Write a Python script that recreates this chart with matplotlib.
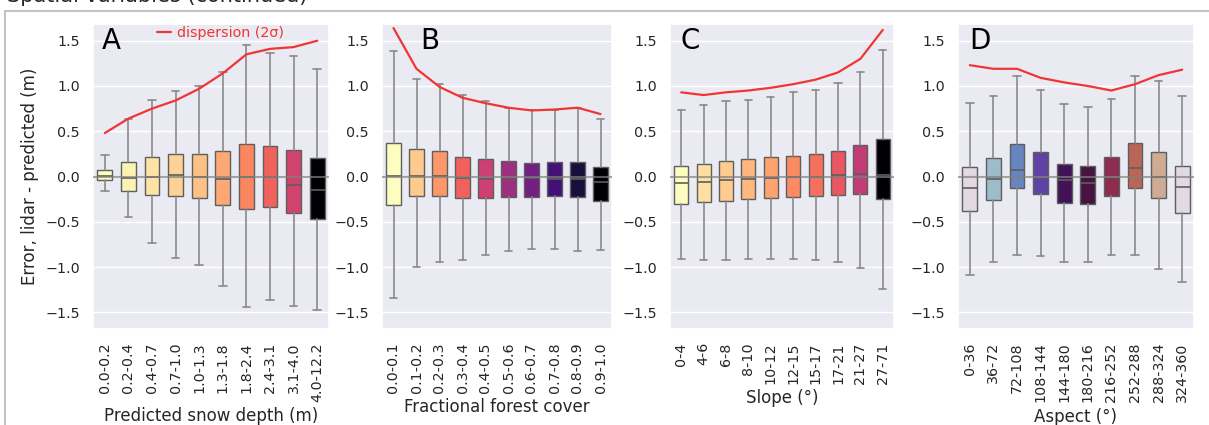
import matplotlib
matplotlib.use("Agg")
import matplotlib.pyplot as plt
import numpy as np
import seaborn as sns
from matplotlib.lines import Line2D

sns.set_theme(style="darkgrid")

# --- A: predicted snow depth bins ---
depth_bins = ["0.0-0.2", "0.2-0.4", "0.4-0.7", "0.7-1.0", "1.0-1.3",
              "1.3-1.8", "1.8-2.4", "2.4-3.1", "3.1-4.0", "4.0-12.2"]
depth_whislo = [-0.16, -0.45, -0.73, -0.90, -0.98, -1.21, -1.44, -1.36, -1.43, -1.48]
depth_q1 = [-0.04, -0.16, -0.20, -0.21, -0.24, -0.31, -0.36, -0.34, -0.40, -0.47]
depth_med = [0.01, -0.02, 0.00, 0.02, 0.00, -0.03, 0.00, -0.01, -0.09, -0.15]
depth_q3 = [0.07, 0.16, 0.22, 0.25, 0.25, 0.28, 0.36, 0.34, 0.29, 0.20]
depth_whishi = [0.24, 0.64, 0.85, 0.94, 1.00, 1.16, 1.45, 1.37, 1.33, 1.19]
depth_disp = [0.48, 0.64, 0.75, 0.84, 0.97, 1.14, 1.35, 1.41, 1.43, 1.50]

# --- B: fractional forest cover bins ---
forest_bins = ["0.0-0.1", "0.1-0.2", "0.2-0.3", "0.3-0.4", "0.4-0.5",
               "0.5-0.6", "0.6-0.7", "0.7-0.8", "0.8-0.9", "0.9-1.0"]
forest_whislo = [-1.34, -1.00, -0.95, -0.92, -0.87, -0.82, -0.80, -0.80, -0.82, -0.81]
forest_q1 = [-0.31, -0.22, -0.21, -0.24, -0.24, -0.23, -0.23, -0.22, -0.23, -0.27]
forest_med = [0.01, 0.01, 0.01, -0.02, -0.03, -0.02, -0.02, -0.03, -0.03, -0.06]
forest_q3 = [0.37, 0.30, 0.28, 0.22, 0.19, 0.17, 0.15, 0.16, 0.16, 0.10]
forest_whishi = [1.39, 1.08, 1.02, 0.90, 0.83, 0.76, 0.73, 0.74, 0.76, 0.64]
forest_disp = [1.64, 1.19, 0.99, 0.87, 0.81, 0.76, 0.73, 0.74, 0.76, 0.69]

# --- C: slope bins ---
slope_bins = ["0-4", "4-6", "6-8", "8-10", "10-12",
              "12-15", "15-17", "17-21", "21-27", "27-71"]
slope_whislo = [-0.91, -0.92, -0.92, -0.91, -0.91, -0.91, -0.92, -0.94, -1.01, -1.24]
slope_q1 = [-0.30, -0.28, -0.27, -0.25, -0.24, -0.23, -0.21, -0.20, -0.19, -0.25]
slope_med = [-0.07, -0.06, -0.04, -0.03, -0.02, 0.00, 0.00, 0.02, 0.03, 0.02]
slope_q3 = [0.12, 0.14, 0.17, 0.19, 0.21, 0.23, 0.25, 0.28, 0.35, 0.41]
slope_whishi = [0.74, 0.79, 0.83, 0.85, 0.88, 0.93, 0.96, 1.03, 1.16, 1.40]
slope_disp = [0.93, 0.90, 0.93, 0.95, 0.98, 1.02, 1.07, 1.15, 1.30, 1.62]

# --- D: aspect bins ---
aspect_bins = ["0-36", "36-72", "72-108", "108-144", "144-180",
               "180-216", "216-252", "252-288", "288-324", "324-360"]
aspect_whislo = [-1.09, -0.94, -0.87, -0.88, -0.94, -0.95, -0.87, -0.87, -1.02, -1.17]
aspect_q1 = [-0.38, -0.26, -0.13, -0.19, -0.29, -0.30, -0.22, -0.13, -0.24, -0.40]
aspect_med = [-0.13, -0.03, 0.07, 0.00, -0.04, -0.07, 0.00, 0.09, 0.00, -0.12]
aspect_q3 = [0.10, 0.20, 0.36, 0.27, 0.14, 0.12, 0.22, 0.37, 0.27, 0.12]
aspect_whishi = [0.81, 0.89, 1.11, 0.96, 0.80, 0.77, 0.86, 1.11, 1.06, 0.89]
aspect_disp = [1.23, 1.19, 1.19, 1.09, 1.04, 1.00, 0.95, 1.02, 1.12, 1.18]

panels = [
    ("A", depth_bins, depth_whislo, depth_q1, depth_med, depth_q3, depth_whishi,
     depth_disp, "Predicted snow depth (m)", "magma_r"),
    ("B", forest_bins, forest_whislo, forest_q1, forest_med, forest_q3, forest_whishi,
     forest_disp, "Fractional forest cover", "magma_r"),
    ("C", slope_bins, slope_whislo, slope_q1, slope_med, slope_q3, slope_whishi,
     slope_disp, "Slope (°)", "magma_r"),
    ("D", aspect_bins, aspect_whislo, aspect_q1, aspect_med, aspect_q3, aspect_whishi,
     aspect_disp, "Aspect (°)", "twilight"),
]

W, H = 1209, 425
fig = plt.figure(figsize=(W / 100, H / 100), dpi=100)

# axes extents in pixels (left, right) and where each panel letter sits
ax_px = [(93, 329), (382, 612), (670, 894), (958, 1194)]
letter_x = [0.036, 0.165, 0.048, 0.046]
top_px, bot_px = 24, 329

disp_color = "#f03535"

for (letter, bins, wlo, q1, med, q3, whi, disp, xlabel, cmap_name), (l, r), lx in zip(
        panels, ax_px, letter_x):
    ax = fig.add_axes([l / W, 1 - bot_px / H, (r - l) / W, (bot_px - top_px) / H])

    # colour each box by the bin midpoint
    mids = np.array([np.mean([float(v) for v in b.split("-")]) for b in bins])
    frac = (mids - mids.min()) / (mids.max() - mids.min())
    cmap = plt.get_cmap(cmap_name)
    colors = [cmap(f) for f in frac]

    stats = [dict(whislo=a, q1=b, med=c, q3=d, whishi=e)
             for a, b, c, d, e in zip(wlo, q1, med, q3, whi)]
    bp = ax.bxp(stats, positions=range(len(bins)), widths=0.62, capwidths=0.33,
                patch_artist=True, showfliers=False,
                boxprops=dict(edgecolor="#5e5e5e", linewidth=1.0),
                whiskerprops=dict(color="#8a8a8a", linewidth=1.2),
                capprops=dict(color="#8a8a8a", linewidth=1.2),
                medianprops=dict(color="#5e5e5e", linewidth=1.2))
    for patch, c in zip(bp["boxes"], colors):
        patch.set_facecolor(c)

    ax.axhline(0, color="#808080", alpha=0.7, lw=1.5, zorder=5)
    ax.plot(range(len(bins)), disp, color=disp_color, lw=1.6, zorder=6,
            label="dispersion (2σ)")

    ax.set_xlim(-0.5, len(bins) - 0.5)
    ax.set_ylim(-1.685, 1.685)
    ax.set_yticks([-1.5, -1.0, -0.5, 0.0, 0.5, 1.0, 1.5])
    ax.set_xticks(range(len(bins)))
    ax.set_xticklabels(bins, rotation=90, fontsize=10.3)
    ax.tick_params(axis="y", labelsize=10.3)
    ax.xaxis.grid(False)
    ax.set_xlabel(xlabel, fontsize=12)

    ax.text(lx, 0.99, letter, transform=ax.transAxes, fontsize=20,
            va="top", ha="left", color="black", zorder=7)

    if letter == "A":
        ax.set_ylabel("Error, lidar - predicted (m)", fontsize=12)
        ax.legend(loc="upper center", bbox_to_anchor=(0.54, 1.035), frameon=False,
                  fontsize=10.3, labelcolor=disp_color, handlelength=1.0,
                  handletextpad=0.4)

fig.text(7 / W, 1 - 2 / H, "Spatial variables (continued)", fontsize=15,
         va="baseline", ha="left", color=".15")

# light frame around the figure group
frame = dict(transform=fig.transFigure, color="#c4c4c4", lw=1.5)
fig.add_artist(Line2D([5 / W, 5 / W], [0, 1 - 11 / H], **frame))
fig.add_artist(Line2D([5 / W, 1], [1 - 11 / H, 1 - 11 / H], **frame))

fig.savefig("out.png", dpi=100)
